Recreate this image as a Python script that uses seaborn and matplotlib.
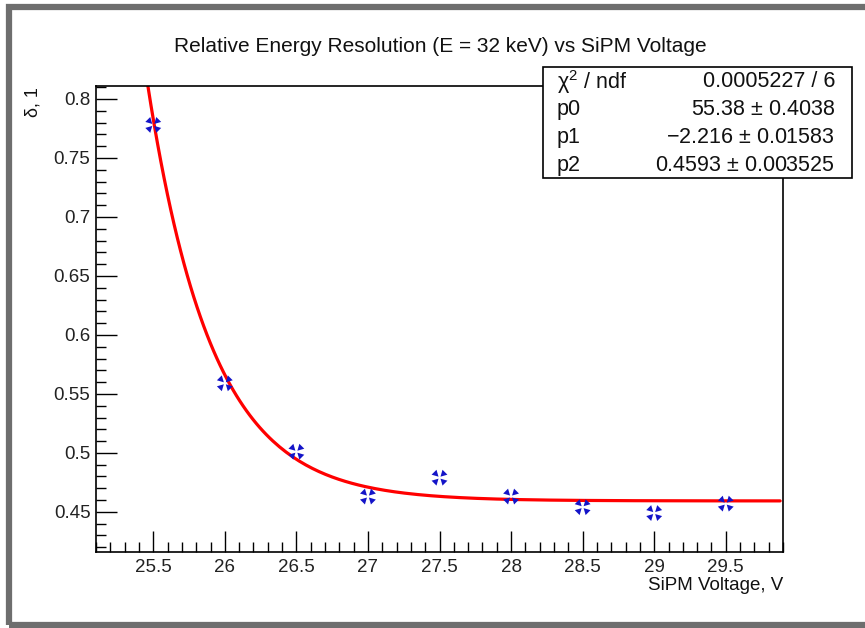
import numpy as np
import pandas as pd
import seaborn as sns
import matplotlib.pyplot as plt
from matplotlib.path import Path
from matplotlib.patches import Rectangle
from matplotlib.ticker import MultipleLocator

# measured points (SiPM voltage vs relative resolution)
voltage = [25.5, 26.0, 26.5, 27.0, 27.5, 28.0, 28.5, 29.0, 29.5]
resolution = [0.778, 0.559, 0.501, 0.463, 0.479, 0.463, 0.454, 0.449, 0.457]

# fit result: exp(p0 + p1*x) + p2
p0, p1, p2 = 55.38, -2.216, 0.4593
stats_names = ['\u03c7$^{2}$ / ndf', 'p0', 'p1', 'p2']
stats_values = ['0.0005227 / 6', '55.38 $\\pm$ 0.4038',
                '\u22122.216 $\\pm$ 0.01583', '0.4593 $\\pm$ 0.003525']
xtick_vals = [25.5, 26, 26.5, 27, 27.5, 28, 28.5, 29, 29.5]
xtick_text = ['25.5', '26', '26.5', '27', '27.5', '28', '28.5', '29', '29.5']
ytick_vals = [0.45, 0.5, 0.55, 0.6, 0.65, 0.7, 0.75, 0.8]
ytick_text = ['0.45', '0.5', '0.55', '0.6', '0.65', '0.7', '0.75', '0.8']

sns.set_theme(style='white')
plt.rcParams['font.family'] = ['Liberation Sans', 'DejaVu Sans']
plt.rcParams['mathtext.fontset'] = 'custom'
plt.rcParams['mathtext.rm'] = 'Liberation Sans'

W, H = 865, 628
fig = plt.figure(figsize=(W / 100, H / 100), dpi=100)
fig.patch.set_facecolor('white')

def fx(px):
    return px / W

def fy(py):
    return 1 - py / H

ax = fig.add_axes([fx(96), fy(552), fx(783) - fx(96), fy(86) - fy(552)])

# fit curve
xf = np.linspace(25.3, 29.88, 200)
fit = pd.DataFrame({'x': xf, 'y': np.exp(p0 + p1 * xf) + p2})
sns.lineplot(data=fit, x='x', y='y', ax=ax, color='#ff0000', lw=2.3, zorder=2)

# marker: four triangles pointing to the centre (X arrangement)
verts, codes = [], []
for ang in [45, 135, 225, 315]:
    a = np.deg2rad(ang)
    d = np.array([np.cos(a), np.sin(a)])
    n = np.array([-d[1], d[0]])
    tip = d * 0.18
    b1 = d * 1.0 + n * 0.45
    b2 = d * 1.0 - n * 0.45
    verts += [tip, b1, b2, tip]
    codes += [Path.MOVETO, Path.LINETO, Path.LINETO, Path.CLOSEPOLY]
mpath = Path(verts, codes)

pts = pd.DataFrame({'v': voltage, 'r': resolution})
sns.scatterplot(data=pts, x='v', y='r', ax=ax, marker=mpath, s=130,
                color='#1414c8', edgecolor='none', zorder=3)

ax.set_xlim(25.10, 29.90)
ax.set_ylim(0.416, 0.811)
ax.xaxis.set_minor_locator(MultipleLocator(0.1))
ax.yaxis.set_minor_locator(MultipleLocator(0.01))
ax.set_xticks(xtick_vals)
ax.set_xticklabels(xtick_text)
ax.set_yticks(ytick_vals)
ax.set_yticklabels(ytick_text)
ax.tick_params(which='major', direction='in', length=15, width=1.0,
               labelsize=13.5, pad=5, color='black', labelcolor='#222222')
ax.tick_params(which='minor', direction='in', length=7, width=1.0, color='black')
ax.tick_params(axis='x', which='both', bottom=True, top=False)
ax.tick_params(axis='y', which='both', left=True, right=False, pad=4)
ax.set_xlabel('')
ax.set_ylabel('')
for sp in ax.spines.values():
    sp.set_color('black')
    sp.set_linewidth(1.2)

fig.text(fx(440), fy(47), 'Relative Energy Resolution (E = 32 keV) vs SiPM Voltage',
         ha='center', va='center', fontsize=15, color='#111111')
fig.text(fx(783), fy(586), 'SiPM Voltage, V', ha='right', va='center',
         fontsize=13.5, color='#111111')
fig.text(fx(33), fy(87), '\u03b4, 1', rotation=90, ha='center', va='top',
         fontsize=13, color='#111111')

# stats box
bx0, bx1, by0, by1 = 543, 852, 67, 178
fig.patches.append(Rectangle((fx(bx0), fy(by1)), fx(bx1) - fx(bx0), fy(by0) - fy(by1),
                             transform=fig.transFigure, facecolor='white',
                             edgecolor='black', lw=1.2, zorder=5))
row_h = (by1 - by0) / 4
for i, (nm, val) in enumerate(zip(stats_names, stats_values)):
    yc = by0 + row_h * (i + 0.5) + 1
    fig.text(fx(557), fy(yc), nm, ha='left', va='center', fontsize=15.5,
             color='#111111', zorder=6)
    fig.text(fx(835), fy(yc), val, ha='right', va='center', fontsize=15.5,
             color='#111111', zorder=6)

# grey canvas frame
fig.patches.append(Rectangle((fx(9), fy(625)), fx(880) - fx(9), fy(7) - fy(625),
                             transform=fig.transFigure, facecolor='none',
                             edgecolor='#6e6e6e', lw=4.5, zorder=10))

fig.savefig('out.png', dpi=100)
